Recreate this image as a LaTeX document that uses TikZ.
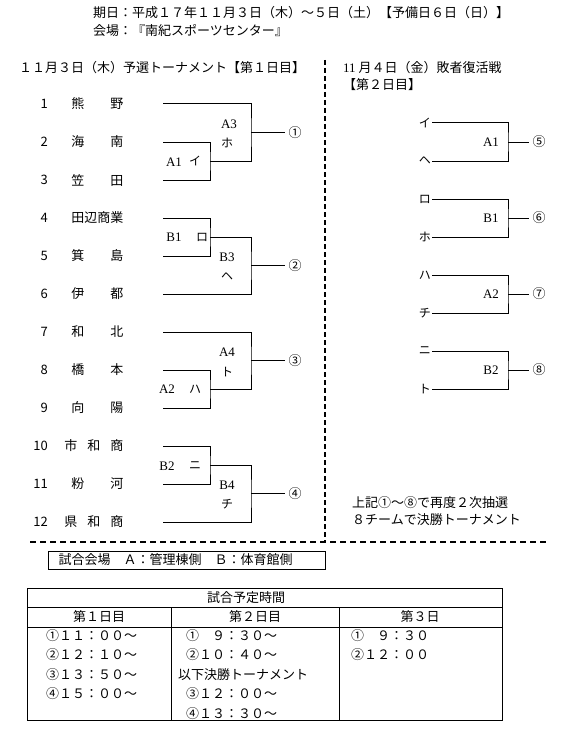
\documentclass[tikz,border=0pt]{standalone}
\usepackage{fontspec}
\setmainfont{Noto Sans CJK JP}
\newfontfamily\latfont{Liberation Serif}
\usepackage{tikz}
\usetikzlibrary{positioning}

\tikzset{
  brk/.style={line width=1pt},
  sepline/.style={line width=1.6pt,dash pattern=on 5pt off 3pt},
  kana/.style={font=\fontsize{12}{14}\selectfont},
  court/.style={font=\fontsize{13}{15}\latfont},
  winner/.style={inner xsep=3pt},
}

\begin{document}
\begin{tikzpicture}[x=1pt,y=-1pt,every node/.style={inner sep=1pt,font=\fontsize{13}{15}\selectfont}]
	\useasboundingbox (0,0) rectangle (577,741);

	% headings
	\node[anchor=west] (period) at (92,13) {期日：平成１７年１１月３日（木）～５日（土）【予備日６日（日）】};
	\node[below=3pt of period.south west,anchor=north west] (venue) {会場：『南紀スポーツセンター』};
	\node[anchor=west] (day1) at (18,68) {１１月３日（木）予選トーナメント【第１日目】};
	\node[anchor=west] (day2) at (342,68) {{\latfont 11} 月４日（金）敗者復活戦};
	\node[below=2pt of day2.south west,anchor=north west] (day2b) {【第２日目】};

	% teams of the first day
	\foreach \i/\nm in {1/熊　　野,2/海　　南,3/笠　　田,4/田辺商業,5/箕　　島,6/伊　　都,
		7/和　　北,8/橋　　本,9/向　　陽,10/市\hspace{10pt}和\hspace{10pt}商,11/粉　　河,12/県\hspace{10pt}和\hspace{10pt}商}{
		\node[anchor=east] (n\i) at (49,{104+38*(\i-1)}) {\i};
		\node[anchor=east] (tm\i) at (124.5,{104+38*(\i-1)}) {\nm};
		\coordinate (t\i) at (163,{104+38*(\i-1)});
	}

	\coordinate (f1) at (210,161);
	\coordinate (s1) at (251,132.5);
	\coordinate (f2) at (210,237);
	\coordinate (s2) at (251,265.5);
	\coordinate (f3) at (210,389);
	\coordinate (s3) at (251,360.5);
	\coordinate (f4) at (210,465);
	\coordinate (s4) at (251,493.5);
	\node[winner] (c1) at (295,132.5) {①};
	\node[winner] (c2) at (295,265.5) {②};
	\node[winner] (c3) at (295,360.5) {③};
	\node[winner] (c4) at (295,493.5) {④};

	\foreach \g/\a/\b/\c in {1/2/3/1,2/4/5/6,3/8/9/7,4/10/11/12}{
		\draw[brk] (t\a) -| (f\g) |- (t\b);
		\draw[brk] (t\c) -| (s\g) |- (f\g);
		\draw[brk] (s\g) -- (c\g);
	}

	\node[court] (A1) at (174,162) {A1};
	\node[kana] (kI) at (195,161) {イ};
	\node[court] (A3) at (229,124) {A3};
	\node[kana] (kHo) at (227,143) {ホ};
	\node[court] (B1) at (174,237) {B1};
	\node[kana] (kRo) at (202,237) {ロ};
	\node[court] (B3) at (227,257) {B3};
	\node[kana] (kHe) at (227,277) {ヘ};
	\node[court] (A2) at (167,389) {A2};
	\node[kana] (kHa) at (195,389) {ハ};
	\node[court] (A4) at (227,352) {A4};
	\node[kana] (kTo) at (227,372) {ト};
	\node[court] (B2) at (167,466) {B2};
	\node[kana] (kNi) at (195,466) {ニ};
	\node[court] (B4) at (227,485) {B4};
	\node[kana] (kChi) at (227,504) {チ};

	% losers' round
	\foreach \q/\ka/\kb/\lbl/\cn in {1/イ/ヘ/A1/⑤,2/ロ/ホ/B1/⑥,3/ハ/チ/A2/⑦,4/ニ/ト/B2/⑧}{
		\node[kana,anchor=east] (ru\q) at (432,{123+76*(\q-1)}) {\ka};
		\node[kana,anchor=east] (rl\q) at (432,{161+76*(\q-1)}) {\kb};
		\coordinate (rm\q) at (508,{142+76*(\q-1)});
		\node[winner] (rc\q) at (539,{142+76*(\q-1)}) {\cn};
		\node[court] (rs\q) at (491,{142+76*(\q-1)}) {\lbl};
		\draw[brk] (ru\q.east) -| (rm\q) |- (rl\q.east);
		\draw[brk] (rm\q) -- (rc\q);
	}

	\node[anchor=west] (redraw) at (351,503) {上記①～⑧で再度２次抽選};
	\node[below=2pt of redraw.south west,anchor=north west] (final) {８チームで決勝トーナメント};

	\draw[sepline] (325,60) -- (325,541);
	\draw[sepline,dash pattern=on 6pt off 4pt] (30,542) -- (548,542);

	% courts and times
	\node[draw,brk,anchor=west,minimum height=18pt,inner xsep=10pt,text width=257pt] (courts) at (48,560) {試合会場　Ａ：管理棟側　Ｂ：体育館側};

	\draw[brk] (27,588) rectangle (502,720);
	\draw[brk] (27,607) -- (502,607);
	\draw[brk] (27,627) -- (502,627);
	\draw[brk] (171,607) -- (171,720);
	\draw[brk] (339,607) -- (339,720);

	\node (ttl) at (246,597.5) {試合予定時間};
	\node (d1) at (99,617) {第１日目};
	\node (d2) at (255,617) {第２日目};
	\node (d3) at (420,617) {第３日};

	\foreach \t [count=\r] in {①１１：００～,②１２：１０～,③１３：５０～,④１５：００～}
		\node[anchor=west] (a\r) at (45,{616+19.5*\r}) {\t};
	\foreach \t [count=\r] in {①　９：３０～,②１０：４０～}
		\node[anchor=west] (b\r) at (185,{616+19.5*\r}) {\t};
	\node[anchor=west] (b3) at (177,674.5) {以下決勝トーナメント};
	\node[anchor=west] (b4) at (185,694) {③１２：００～};
	\node[anchor=west] (b5) at (185,713.5) {④１３：３０～};
	\foreach \t [count=\r] in {①　９：３０,②１２：００}
		\node[anchor=west] (e\r) at (350,{616+19.5*\r}) {\t};
\end{tikzpicture}
\end{document}
